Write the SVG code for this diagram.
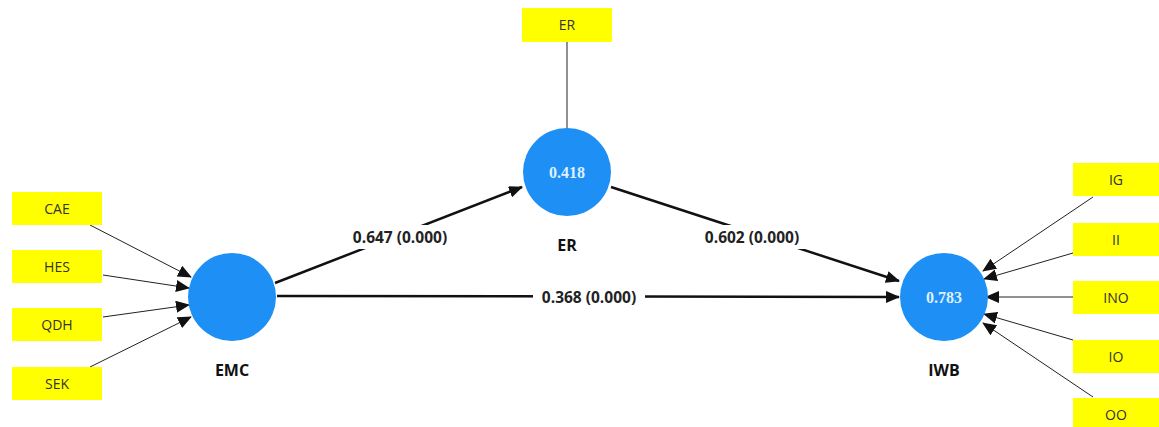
<svg xmlns="http://www.w3.org/2000/svg" width="1159" height="427" viewBox="0 0 1159 427">
<style>
.ind{fill:#ffff00}
.it{font-family:"Open Sans","Liberation Sans",sans-serif;font-size:14px;fill:#333;text-anchor:middle}
.lv{fill:#1e90f5}
.lvt{font-family:"Liberation Serif","DejaVu Serif",serif;font-size:16px;font-weight:bold;fill:#dff0ff;text-anchor:middle}
.lbl{font-family:"Open Sans","Liberation Sans",sans-serif;font-size:16px;font-weight:bold;fill:#111;text-anchor:middle}
.thin{stroke:#222;stroke-width:1;fill:none}
.thick{stroke:#111;stroke-width:2.5;fill:none}
.pl{font-family:"Open Sans","Liberation Sans",sans-serif;font-size:15.5px;font-weight:bold;fill:#222;text-anchor:middle}
</style>
<defs>
<marker id="ah" markerUnits="userSpaceOnUse" markerWidth="14" markerHeight="12" refX="13" refY="6" orient="auto">
<path d="M0,0 L14,6 L0,12 Z" fill="#111"/>
</marker>
</defs>
<rect width="1159" height="427" fill="#fff"/>
<g id="connectors">
<line class="thin" x1="567" y1="42" x2="567" y2="129"/>
<line class="thin" x1="90" y1="225" x2="191" y2="277" marker-end="url(#ah)"/>
<line class="thin" x1="103" y1="275" x2="189" y2="288" marker-end="url(#ah)"/>
<line class="thin" x1="103" y1="317" x2="189" y2="305" marker-end="url(#ah)"/>
<line class="thin" x1="90" y1="367" x2="191" y2="317" marker-end="url(#ah)"/>
<line class="thin" x1="1093" y1="197" x2="983" y2="271" marker-end="url(#ah)"/>
<line class="thin" x1="1073" y1="253" x2="984" y2="279" marker-end="url(#ah)"/>
<line class="thin" x1="1073" y1="297" x2="986" y2="297" marker-end="url(#ah)"/>
<line class="thin" x1="1073" y1="340" x2="984" y2="314" marker-end="url(#ah)"/>
<line class="thin" x1="1093" y1="397" x2="983" y2="323" marker-end="url(#ah)"/>
<line class="thick" x1="275" y1="283" x2="522" y2="187" marker-end="url(#ah)"/>
<line class="thick" x1="277" y1="296" x2="899" y2="297" marker-end="url(#ah)"/>
<line class="thick" x1="611" y1="187" x2="899" y2="281" marker-end="url(#ah)"/>
<rect x="346" y="225" width="108" height="24" fill="#fff"/>
<text class="pl" x="400" y="243">0.647 (0.000)</text>
<rect x="533" y="285" width="112" height="24" fill="#fff"/>
<text class="pl" x="589" y="303">0.368 (0.000)</text>
<rect x="698" y="225" width="108" height="24" fill="#fff"/>
<text class="pl" x="752" y="243">0.602 (0.000)</text>
</g>
<g id="EMC">
<circle class="lv" cx="232" cy="297" r="44"/>
<text class="lbl" x="232" y="376">EMC</text>
</g>
<g id="ER">
<circle class="lv" cx="567" cy="172" r="44"/>
<text class="lvt" x="567" y="178">0.418</text>
<text class="lbl" x="567" y="251">ER</text>
</g>
<g id="IWB">
<circle class="lv" cx="944" cy="297" r="44"/>
<text class="lvt" x="944" y="303">0.783</text>
<text class="lbl" x="944" y="376">IWB</text>
</g>
<g id="ind-ER"><rect class="ind" x="522" y="8" width="90" height="34"/><text class="it" x="567" y="30">ER</text></g>
<g id="ind-CAE"><rect class="ind" x="12" y="192" width="90" height="33"/><text class="it" x="57" y="214">CAE</text></g>
<g id="ind-HES"><rect class="ind" x="12" y="250" width="90" height="33"/><text class="it" x="57" y="272">HES</text></g>
<g id="ind-QDH"><rect class="ind" x="12" y="308" width="90" height="33"/><text class="it" x="57" y="330">QDH</text></g>
<g id="ind-SEK"><rect class="ind" x="12" y="367" width="90" height="33"/><text class="it" x="57" y="389">SEK</text></g>
<g id="ind-IG"><rect class="ind" x="1073" y="163" width="86" height="33"/><text class="it" x="1116" y="185">IG</text></g>
<g id="ind-II"><rect class="ind" x="1073" y="223" width="86" height="33"/><text class="it" x="1116" y="245">II</text></g>
<g id="ind-INO"><rect class="ind" x="1073" y="281" width="86" height="33"/><text class="it" x="1116" y="303">INO</text></g>
<g id="ind-IO"><rect class="ind" x="1073" y="340" width="86" height="33"/><text class="it" x="1116" y="362">IO</text></g>
<g id="ind-OO"><rect class="ind" x="1073" y="398" width="86" height="33"/><text class="it" x="1116" y="420">OO</text></g>
</svg>
